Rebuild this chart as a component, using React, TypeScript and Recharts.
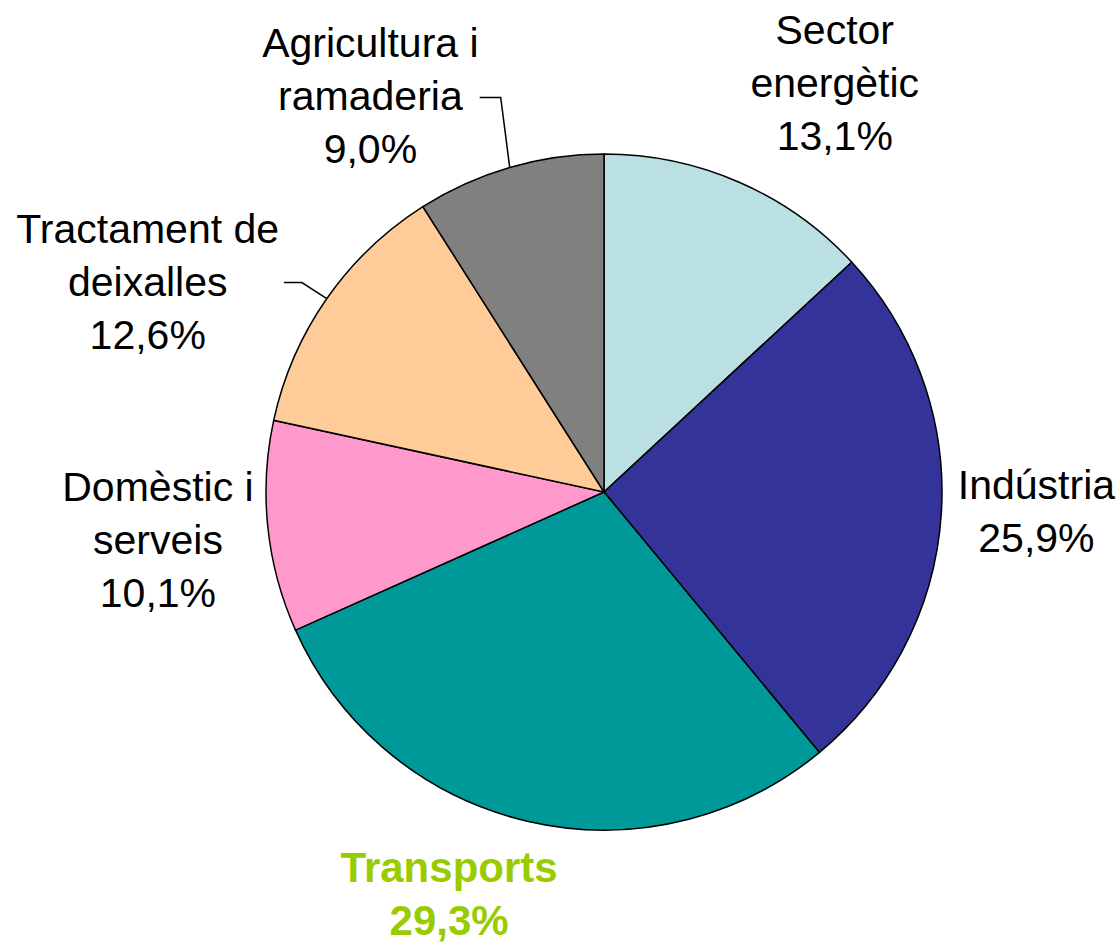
import React from 'react';
import { PieChart, Pie, Cell } from 'recharts';

const sectorNames = [
  'Sector energètic',
  'Indústria',
  'Transports',
  'Domèstic i serveis',
  'Tractament de deixalles',
  'Agricultura i ramaderia',
];
const nameLines = [
  ['Sector', 'energètic'],
  ['Indústria'],
  ['Transports'],
  ['Domèstic i', 'serveis'],
  ['Tractament de', 'deixalles'],
  ['Agricultura i', 'ramaderia'],
];
const shares = [13.1, 25.9, 29.3, 10.1, 12.6, 9.0];
const percentLabels = ['13,1%', '25,9%', '29,3%', '10,1%', '12,6%', '9,0%'];
const sliceColors = ['#BBE0E3', '#333399', '#009999', '#FF99CC', '#FFCC99', '#808080'];

const data = sectorNames.map((name, i) => ({ name, value: shares[i] }));

// label layout (offsets from radial anchor), kept separate from data
const labelNudge = [
  [55, -6],
  [-6, -9],
  [-55, -25],
  [-9, 3],
  [-96, 42],
  [-111, 26],
];
// leader lines: elbow offset from slice edge, horizontal length
const leaders: (null | { elbow: [number, number]; len: number })[] = [
  null,
  null,
  null,
  null,
  { elbow: [-25, -16], len: 18 },
  { elbow: [-9, -70], len: 21 },
];

const RAD = Math.PI / 180;
const LINE = 53;

const renderLabel = (props: any) => {
  const { cx, cy, midAngle, outerRadius, index } = props;
  const r = outerRadius * 1.3;
  const ax = cx + r * Math.cos(-midAngle * RAD);
  const ay = cy + r * Math.sin(-midAngle * RAD);
  const [nx, ny] = labelNudge[index];
  const bx = ax + nx;
  const by = ay + ny;
  const lines = [...nameLines[index], percentLabels[index]];
  const first = by - ((lines.length - 1) / 2) * LINE + 14;
  const isTransport = index === 2;
  const leader = leaders[index];
  let leaderEl = null;
  if (leader) {
    const sx = cx + outerRadius * Math.cos(-midAngle * RAD);
    const sy = cy + outerRadius * Math.sin(-midAngle * RAD);
    const ex = sx + leader.elbow[0];
    const ey = sy + leader.elbow[1];
    leaderEl = (
      <polyline
        points={`${sx},${sy} ${ex},${ey} ${ex - leader.len},${ey}`}
        fill="none"
        stroke="#000"
        strokeWidth={1.5}
      />
    );
  }
  return (
    <g key={`lbl-${index}`}>
      {leaderEl}
      <text
        x={bx}
        y={first}
        textAnchor="middle"
        fontFamily="'Liberation Sans', Arial, sans-serif"
        fontSize={isTransport ? 42 : 41}
        fontWeight={isTransport ? 'bold' : 'normal'}
        fill={isTransport ? '#99CC00' : '#000'}
      >
        {lines.map((t, i) => (
          <tspan key={i} x={bx} dy={i === 0 ? 0 : LINE}>
            {t}
          </tspan>
        ))}
      </text>
    </g>
  );
};

export default function App() {
  return (
    <div
      style={{
        position: 'absolute',
        left: 0,
        top: 0,
        width: 1120,
        height: 944,
        background: '#fff',
        overflow: 'hidden',
      }}
    >
      <PieChart width={1120} height={944} margin={{ top: 0, right: 0, bottom: 0, left: 0 }}>
        <Pie
          data={data}
          dataKey="value"
          nameKey="name"
          cx={604}
          cy={492}
          outerRadius={338}
          startAngle={90}
          endAngle={-270}
          stroke="#000"
          strokeWidth={1.5}
          label={renderLabel}
          labelLine={false}
          isAnimationActive={false}
        >
          {data.map((d, i) => (
            <Cell key={d.name} fill={sliceColors[i]} stroke="#000" strokeWidth={1.5} />
          ))}
        </Pie>
      </PieChart>
    </div>
  );
}
